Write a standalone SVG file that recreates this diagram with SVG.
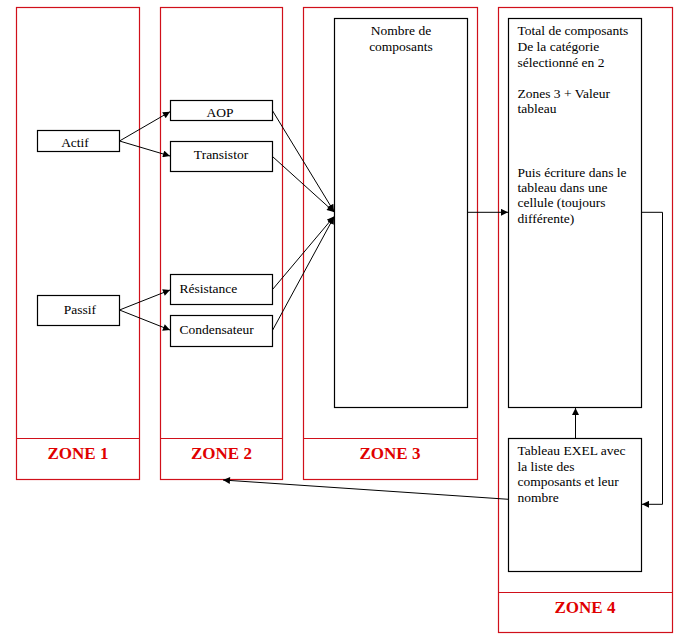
<svg xmlns="http://www.w3.org/2000/svg" width="686" height="640" viewBox="0 0 686 640">
<style>
.zone{fill:none;stroke:#d0101a;stroke-width:1.2}
.box{fill:#fff;stroke:#000;stroke-width:1.2}
.t{font-family:"Liberation Serif","Times New Roman",serif;font-size:13.5px;fill:#000}
.z{font-family:"Liberation Serif","Times New Roman",serif;font-size:17px;font-weight:bold;fill:#e00000;text-anchor:middle}
.c{fill:none;stroke:#000;stroke-width:1}
</style>
<defs>
<marker id="ah" viewBox="0 0 10 10" refX="10" refY="5" markerWidth="8" markerHeight="7" markerUnits="userSpaceOnUse" orient="auto">
<path d="M0,0 L10,5 L0,10 z" fill="#000"/>
</marker>
</defs>
<g id="zone1"><rect class="zone" x="16.5" y="7.5" width="123" height="472"/><line class="zone" x1="16.5" y1="438.5" x2="139.5" y2="438.5"/><text class="z" x="78" y="459">ZONE 1</text></g>
<g id="zone2"><rect class="zone" x="160.5" y="7.5" width="122" height="472"/><line class="zone" x1="160.5" y1="438.5" x2="282.5" y2="438.5"/><text class="z" x="221.5" y="459">ZONE 2</text></g>
<g id="zone3"><rect class="zone" x="303.5" y="7.5" width="174" height="472"/><line class="zone" x1="303.5" y1="438.5" x2="477.5" y2="438.5"/><text class="z" x="390" y="459">ZONE 3</text></g>
<g id="zone4"><rect class="zone" x="498.5" y="7.5" width="174" height="625"/><line class="zone" x1="498.5" y1="592.5" x2="672.5" y2="592.5"/><text class="z" x="585" y="613">ZONE 4</text></g>
<g id="actif"><rect class="box" x="37.5" y="130.5" width="82" height="21"/><text class="t" x="75" y="146.5" text-anchor="middle">Actif</text></g>
<g id="passif"><rect class="box" x="37.5" y="295.5" width="82" height="30"/><text class="t" x="80" y="313.5" text-anchor="middle">Passif</text></g>
<g id="aop"><rect class="box" x="170.5" y="100.5" width="102" height="20"/><text class="t" x="220" y="117" text-anchor="middle">AOP</text></g>
<g id="transistor"><rect class="box" x="170.5" y="141.5" width="102" height="30"/><text class="t" x="221" y="158.5" text-anchor="middle">Transistor</text></g>
<g id="resistance"><rect class="box" x="170.5" y="274.5" width="102" height="30"/><text class="t" x="179.5" y="292.5">Résistance</text></g>
<g id="condensateur"><rect class="box" x="170.5" y="315.5" width="102" height="31"/><text class="t" x="179.5" y="333.5">Condensateur</text></g>
<g id="nombre"><rect class="box" x="334.5" y="18.5" width="133" height="389"/><text class="t" x="401" y="35" text-anchor="middle">Nombre de</text><text class="t" x="401" y="50.7" text-anchor="middle">composants</text></g>
<g id="total"><rect class="box" x="508.5" y="18.5" width="133" height="389"/>
<text class="t" x="517.5" y="35">Total de composants</text>
<text class="t" x="517.5" y="50.7">De la catégorie</text>
<text class="t" x="517.5" y="66.5">sélectionné en 2</text>
<text class="t" x="517.5" y="97.7">Zones 3 + Valeur</text>
<text class="t" x="517.5" y="113.3">tableau</text>
<text class="t" x="517.5" y="176.7">Puis écriture dans le</text>
<text class="t" x="517.5" y="192">tableau dans une</text>
<text class="t" x="517.5" y="207.4">cellule (toujours</text>
<text class="t" x="517.5" y="222.8">différente)</text>
</g>
<g id="tableau"><rect class="box" x="508.5" y="438.5" width="133" height="133"/>
<text class="t" x="517.5" y="455">Tableau EXEL avec</text>
<text class="t" x="517.5" y="470.7">la liste des</text>
<text class="t" x="517.5" y="486.3">composants et leur</text>
<text class="t" x="517.5" y="501.8">nombre</text>
</g>
<g id="connectors">
<line class="c" x1="119.5" y1="141" x2="170" y2="111.7" marker-end="url(#ah)"/>
<line class="c" x1="119.5" y1="141" x2="170" y2="156" marker-end="url(#ah)"/>
<line class="c" x1="119.5" y1="310" x2="170" y2="290" marker-end="url(#ah)"/>
<line class="c" x1="119.5" y1="310" x2="170" y2="330" marker-end="url(#ah)"/>
<line class="c" x1="272.7" y1="111" x2="334" y2="211.5" marker-end="url(#ah)"/>
<line class="c" x1="272.7" y1="156.7" x2="334" y2="212" marker-end="url(#ah)"/>
<line class="c" x1="272.7" y1="289.3" x2="334" y2="216.5" marker-end="url(#ah)"/>
<line class="c" x1="272.7" y1="330" x2="334" y2="217" marker-end="url(#ah)"/>
<line class="c" x1="467.5" y1="212.3" x2="508" y2="212.3" marker-end="url(#ah)"/>
<polyline class="c" points="641.7,212.3 662.5,212.3 662.5,504.3 642,504.3" marker-end="url(#ah)"/>
<line class="c" x1="575.5" y1="438.5" x2="575.5" y2="408" marker-end="url(#ah)"/>
<line class="c" x1="508.5" y1="499.3" x2="223" y2="480" marker-end="url(#ah)"/>
</g>
</svg>
